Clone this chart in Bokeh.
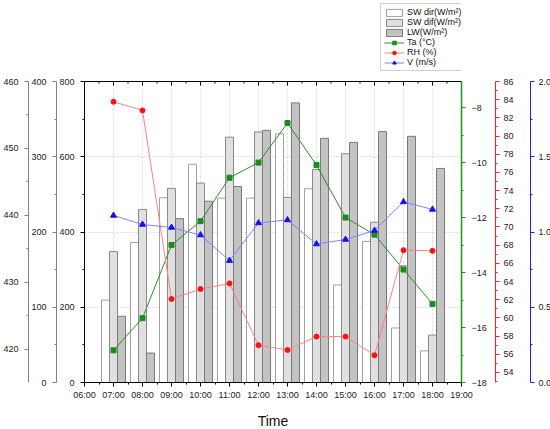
import math
from bokeh.plotting import figure
from bokeh.models import (Range1d, LinearAxis, FixedTicker, ColumnDataSource, Legend, LegendItem, Span)
from bokeh.transform import dodge
from bokeh.embed import file_html
from bokeh.resources import INLINE

hours = [7, 8, 9, 10, 11, 12, 13, 14, 15, 16, 17, 18]
tick_hours = list(range(6, 20))
tick_labels = ["%02d:00" % h for h in tick_hours]
sw_dir = [219, 372, 491, 580, 490, 490, 661, 515, 259, 375, 145, 84]          # W/m2, 0-800 axis
sw_dif = [174, 230, 258, 265, 326, 333, 246, 283, 304, 213, 155, 63]          # W/m2, 0-400 axis
lw = [424.9, 419.4, 439.5, 442.1, 444.3, 452.7, 456.8, 451.5, 450.9, 452.5, 451.8, 447.0]  # 415-460 axis
ta = [-16.83, -15.66, -13.0, -12.13, -10.55, -10.0, -8.56, -10.09, -12.0, -12.62, -13.89, -15.14]
rh = [83.77, 82.82, 62.08, 63.18, 63.8, 57.0, 56.48, 57.95, 57.95, 55.9, 67.45, 67.38]
v = [1.11, 1.05, 1.03, 0.98, 0.81, 1.06, 1.08, 0.92, 0.95, 1.01, 1.20, 1.15]
series_labels = ["SW dir(W/m\u00b2)", "SW dif(W/m\u00b2)", "LW(W/m\u00b2)", "Ta (\u00b0C)", "RH (%)", "V (m/s)"]

# axis ranges (value bounds of each scale)
R_MAIN = (0, 800)
R_SW = (0, 400)
R_LW = (415, 460)
R_TA = (-18, -7.05)
R_RH = (52.9, 86)
R_V = (0, 2)

FONT = "Liberation Sans"
FS = "9px"

# the frame reaches the top of the canvas (room for the legend); the plot area is its lower DATA_H px
FRAME_H = 382
DATA_H = 301
EXT = (FRAME_H - DATA_H) / DATA_H

def ext(r):
    return Range1d(r[0], r[1] + (r[1] - r[0]) * EXT)

src = ColumnDataSource(dict(hour=hours, sw_dir=sw_dir, sw_dif=sw_dif, lw=lw, ta=ta, rh=rh, v=v))

p = figure(output_backend="svg", toolbar_location=None,
           x_range=Range1d(6, 19), y_range=ext(R_MAIN),
           frame_width=377, frame_height=FRAME_H,
           min_border_left=80, min_border_right=85, min_border_top=0, min_border_bottom=46,
           x_axis_location=None, y_axis_location=None)
p.outline_line_color = None
p.background_fill_color = "white"

p.extra_y_ranges = {"sw": ext(R_SW), "lw": ext(R_LW), "ta": ext(R_TA), "rh": ext(R_RH), "v": ext(R_V)}

def style(ax, color="black", label_color="#222222"):
    ax.axis_line_color = color
    ax.major_tick_line_color = color
    ax.minor_tick_line_color = color
    ax.major_label_text_font = FONT
    ax.major_label_text_font_size = FS
    ax.major_label_text_color = label_color
    ax.major_tick_out = 4
    ax.major_tick_in = 0
    ax.minor_tick_out = 2
    ax.minor_tick_in = 0
    ax.major_label_standoff = 4

def spacer(ax, size):
    ax.axis_label = " "
    ax.axis_label_text_font_size = size
    ax.axis_label_standoff = 0

# bottom x axis
xb = LinearAxis(ticker=FixedTicker(ticks=tick_hours, minor_ticks=[h + 0.5 for h in tick_hours[:-1]]),
                major_label_overrides={h: l for h, l in zip(tick_hours, tick_labels)})
style(xb)
xb.major_label_standoff = 3
xb.axis_label = "Time"
xb.axis_label_text_font = FONT
xb.axis_label_text_font_size = "14px"
xb.axis_label_text_font_style = "normal"
xb.axis_label_text_color = "#111111"
xb.axis_label_standoff = 10
p.add_layout(xb, "below")

# left axes
y1 = LinearAxis(bounds=R_MAIN, ticker=FixedTicker(ticks=[0, 200, 400, 600, 800], minor_ticks=[100, 300, 500, 700]))
style(y1)
y1.major_label_standoff = 6
p.add_layout(y1, "left")

y2 = LinearAxis(y_range_name="sw", bounds=R_SW, ticker=FixedTicker(ticks=[0, 100, 200, 300, 400],
                                                                   minor_ticks=[50, 150, 250, 350]))
style(y2, "#808080")
y2.major_label_standoff = 6
p.add_layout(y2, "left")

y3 = LinearAxis(y_range_name="lw", bounds=R_LW, ticker=FixedTicker(ticks=[420, 430, 440, 450, 460],
                                                                   minor_ticks=[425, 435, 445, 455]))
style(y3, "#808080")
y3.major_label_standoff = 6
p.add_layout(y3, "left")

# right axes
ta_ticks = [-18, -16, -14, -12, -10, -8]
yg = LinearAxis(y_range_name="ta", bounds=R_TA,
                ticker=FixedTicker(ticks=ta_ticks, minor_ticks=[-17, -15, -13, -11, -9]),
                major_label_overrides={t: "\u2212%d" % (-t) for t in ta_ticks})
style(yg, "#1a961a")
yg.axis_line_width = 1.5
yg.major_label_standoff = 6
spacer(yg, "2px")
p.add_layout(yg, "right")

rh_ticks = list(range(54, 87, 2))
yr = LinearAxis(y_range_name="rh", bounds=R_RH,
                ticker=FixedTicker(ticks=rh_ticks, minor_ticks=list(range(53, 86, 2))))
style(yr, "#ff2020")
spacer(yr, "10px")
p.add_layout(yr, "right")

v_ticks = [0, 0.5, 1.0, 1.5, 2.0]
yb = LinearAxis(y_range_name="v", bounds=R_V,
                ticker=FixedTicker(ticks=v_ticks, minor_ticks=[0.25, 0.75, 1.25, 1.75]),
                major_label_overrides={t: "%.1f" % t for t in v_ticks})
style(yb, "#2020ff")
p.add_layout(yb, "right")

# grids: horizontal from the grid model, vertical limited to the plot area
p.xgrid.visible = False
p.ygrid.ticker = FixedTicker(ticks=[200, 400, 600])
p.ygrid.grid_line_color = "#d8d8d8"
p.ygrid.grid_line_dash = "2 2"
grid_x = tick_hours[1:-1]
p.segment(x0=grid_x, y0=[R_MAIN[0]] * len(grid_x), x1=grid_x, y1=[R_MAIN[1]] * len(grid_x),
          line_color="#d8d8d8", line_dash="2 2", line_width=1, level="underlay")

# top frame line with inward ticks
px_unit = (R_MAIN[1] - R_MAIN[0]) / DATA_H
p.add_layout(Span(location=R_MAIN[1], dimension="width", line_color="black", line_width=1))
p.scatter(x=tick_hours, y=[R_MAIN[1] - 2 * px_unit] * len(tick_hours), marker="dash", angle=math.pi / 2,
          size=4, line_color="black", line_width=1)
p.scatter(x=[h + 0.5 for h in tick_hours[:-1]], y=[R_MAIN[1] - 1 * px_unit] * (len(tick_hours) - 1),
          marker="dash", angle=math.pi / 2, size=2, line_color="black", line_width=1)

# bars
bw = 0.276
b1 = p.vbar(x=dodge("hour", -bw, range=p.x_range), top="sw_dir", bottom=R_MAIN[0], width=bw, source=src,
            fill_color="white", line_color="#a0a0a0")
b2 = p.vbar(x="hour", top="sw_dif", bottom=R_SW[0], width=bw, source=src, y_range_name="sw",
            fill_color="#e0e0e0", line_color="#8a8a8a")
b3 = p.vbar(x=dodge("hour", bw, range=p.x_range), top="lw", bottom=R_LW[0], width=bw, source=src,
            y_range_name="lw", fill_color="#c3c3c3", line_color="#7a7a7a")

# lines
lg = p.line("hour", "ta", source=src, y_range_name="ta", line_color="#2a8f2a", line_width=1)
sg = p.scatter("hour", "ta", source=src, y_range_name="ta", marker="square", size=5,
               fill_color="#1a8c1a", line_color="#1a8c1a")
lr = p.line("hour", "rh", source=src, y_range_name="rh", line_color="#ff8080", line_width=1)
sr = p.scatter("hour", "rh", source=src, y_range_name="rh", marker="circle", size=5,
               fill_color="#ff1010", line_color="#ff1010")
lb = p.line("hour", "v", source=src, y_range_name="v", line_color="#8080ff", line_width=1)
sb = p.scatter("hour", "v", source=src, y_range_name="v", marker="triangle", size=6,
               fill_color="#1010ff", line_color="#1010ff")

rends = [[b1], [b2], [b3], [lg, sg], [lr, sr], [lb, sb]]
legend = Legend(items=[LegendItem(label=l, renderers=r) for l, r in zip(series_labels, rends)],
                location=(296, FRAME_H - 71))
legend.label_text_font = FONT
legend.label_text_font_size = FS
legend.label_text_color = "#111111"
legend.label_height = 9
legend.glyph_height = 9
legend.glyph_width = 20
legend.spacing = 0
legend.padding = 3
legend.margin = 0
legend.label_standoff = 3
legend.border_line_color = "#a0a0a0"
legend.background_fill_alpha = 1.0
p.add_layout(legend, "center")

open("out.html", "w").write(file_html(p, INLINE))
